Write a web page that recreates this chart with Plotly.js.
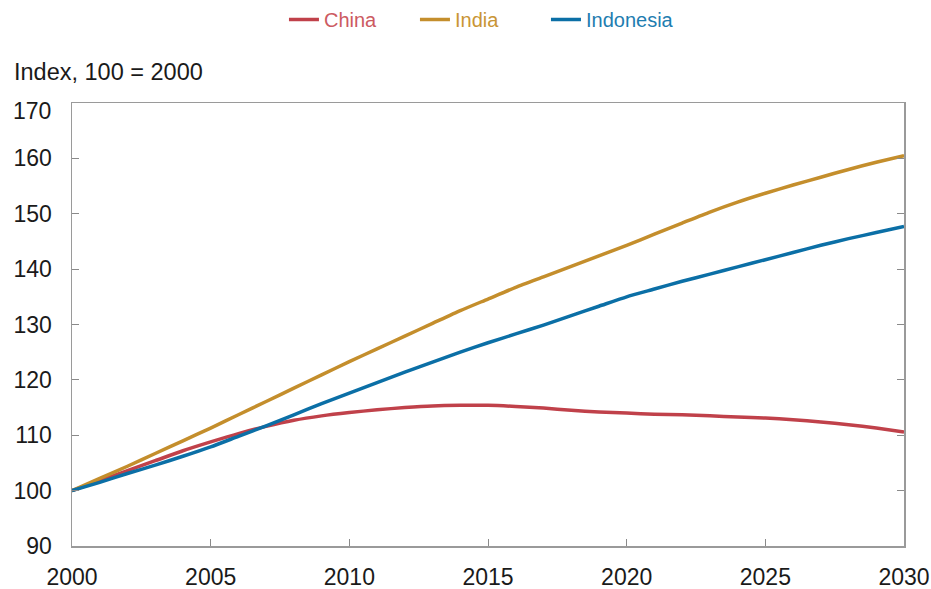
<!DOCTYPE html>
<html>
<head>
<meta charset="utf-8">
<script src="https://cdn.plot.ly/plotly-3.0.1.min.js"></script>
<style>html,body{margin:0;padding:0;background:#fff;}#chart{width:931px;height:589px;}</style>
</head>
<body>
<div id="chart"></div>
<script>
const years = [2000,2001,2002,2003,2004,2005,2006,2007,2008,2009,2010,2011,2012,2013,2014,2015,2016,2017,2018,2019,2020,2021,2022,2023,2024,2025,2026,2027,2028,2029,2030];
const china = [100,101.8,103.6,105.4,107.2,108.8,110.3,111.6,112.7,113.5,114.1,114.6,115.0,115.3,115.4,115.4,115.2,114.9,114.5,114.2,114.0,113.8,113.7,113.5,113.3,113.1,112.8,112.4,111.9,111.3,110.6];
const india = [100,102.2,104.4,106.7,109.0,111.3,113.7,116.1,118.5,120.9,123.3,125.6,127.9,130.2,132.5,134.6,136.7,138.6,140.5,142.4,144.3,146.3,148.3,150.3,152.1,153.7,155.2,156.6,158.0,159.3,160.5];
const indonesia = [100,101.5,103.1,104.6,106.2,107.9,109.8,111.7,113.7,115.7,117.6,119.5,121.4,123.2,125.0,126.7,128.3,129.9,131.6,133.3,135.0,136.4,137.8,139.1,140.4,141.7,143.0,144.3,145.5,146.6,147.7];
const seriesNames = ["China","India","Indonesia"];
const seriesColors = ["#c0414a","#c48e2c","#0b6fa6"];
const legendTextColors = ["#cc5a61","#c99535","#1e7db0"];
const yTicks = [90,100,110,120,130,140,150,160,170];
const xTicks = [2000,2005,2010,2015,2020,2025,2030];
const yLabel = "Index, 100 = 2000";

const FONT = 'Liberation Sans, Arial, sans-serif';
const seriesData = [china, india, indonesia];
const traces = seriesData.map((vals, i) => ({
  x: years, y: vals, type: 'scatter', mode: 'lines',
  name: '<span style="color:' + legendTextColors[i] + '">' + seriesNames[i] + '</span>',
  line: {color: seriesColors[i], width: 3.5, shape: 'spline', smoothing: 0.6},
  hoverinfo: 'skip'
}));

const axisCommon = {
  showline: true, linecolor: '#9a9a9a', linewidth: 1.5,
  ticks: 'inside', tickcolor: '#8a8a8a', ticklen: 7, tickwidth: 1,
  showgrid: false, zeroline: false,
  tickfont: {family: FONT, size: 23, color: '#1a1a1a'}
};

const topTick = yTicks[yTicks.length - 1];
const layout = {
  width: 931, height: 589,
  margin: {l: 72, r: 27, t: 103, b: 43},
  paper_bgcolor: '#fff', plot_bgcolor: '#fff',
  showlegend: true,
  legend: {orientation: 'h', x: 0.305, xref: 'container', xanchor: 'left', y: 1, yref: 'container', yanchor: 'top',
    font: {family: FONT, size: 20}, entrywidth: 86, entrywidthmode: 'pixels', tracegroupgap: 0,
    bgcolor: 'rgba(0,0,0,0)'},
  xaxis: Object.assign({}, axisCommon, {range: [2000, 2030], tickvals: xTicks, ticktext: xTicks.map(String), mirror: true, ticklabelstandoff: 10}),
  yaxis: Object.assign({}, axisCommon, {range: [90, 170], tickvals: yTicks,
    ticktext: yTicks.map(v => v === topTick ? '' : String(v)), mirror: 'ticks', ticklabelstandoff: 14}),
  annotations: [
    {text: yLabel, xref: 'paper', yref: 'paper', x: -0.072, y: 1.07, xanchor: 'left', yanchor: 'middle', showarrow: false,
      font: {family: FONT, size: 23.5, color: '#1a1a1a'}},
    {text: String(topTick), xref: 'paper', yref: 'y', x: 0, y: topTick, xanchor: 'right', yanchor: 'middle', xshift: -19, yshift: -8,
      showarrow: false, font: {family: FONT, size: 23, color: '#1a1a1a'}}
  ]
};

Plotly.newPlot('chart', traces, layout, {staticPlot: true, displayModeBar: false});
</script>
</body>
</html>
